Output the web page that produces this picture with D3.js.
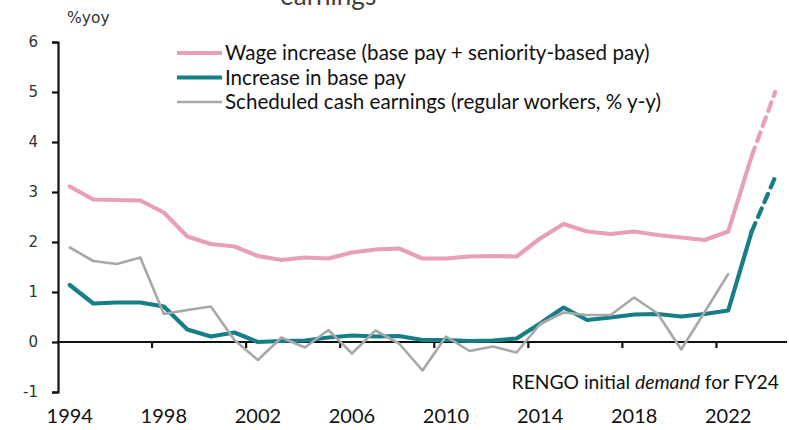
<!DOCTYPE html>
<html>
<head>
<meta charset="utf-8">
<script src="https://cdn.jsdelivr.net/npm/d3@7"></script>
<style>
  html, body { margin: 0; padding: 0; background: #fff; }
  svg { display: block; }
</style>
</head>
<body>
<svg id="chart" width="789" height="430"></svg>
<script>
// Fiscal years on the category axis
const years = d3.range(1994, 2025);

// RENGO wage increase (base pay + seniority-based pay), %
const wageIncrease = [3.11, 2.85, 2.84, 2.83, 2.59, 2.11, 1.96, 1.91, 1.72, 1.64,
  1.69, 1.67, 1.79, 1.85, 1.87, 1.67, 1.67, 1.71, 1.72, 1.71,
  2.07, 2.36, 2.21, 2.16, 2.21, 2.14, 2.09, 2.04, 2.21, 3.72, 5.0];

// Increase in base pay, %
const basePay = [1.14, 0.77, 0.79, 0.79, 0.71, 0.25, 0.11, 0.19, 0.0, 0.02,
  0.03, 0.09, 0.13, 0.11, 0.12, 0.04, 0.04, 0.02, 0.03, 0.07,
  0.37, 0.69, 0.44, 0.49, 0.55, 0.56, 0.51, 0.56, 0.63, 2.21, 3.3];

// Scheduled cash earnings (regular workers), % y-y; no values for FY23/FY24
const scheduledEarnings = [1.89, 1.62, 1.56, 1.69, 0.56, 0.64, 0.71, 0.04, -0.36, 0.09,
  -0.11, 0.24, -0.23, 0.23, -0.03, -0.57, 0.11, -0.18, -0.09, -0.21,
  0.36, 0.59, 0.54, 0.54, 0.89, 0.57, -0.15, 0.6, 1.36, null, null];

// Last actual year; the step to the next year is the initial demand
const lastActual = 2023;

const yTicks = [-1, 0, 1, 2, 3, 4, 5, 6];
const xLabelYears = [1994, 1998, 2002, 2006, 2010, 2014, 2018, 2022];
const xTickYears = [1998, 2002, 2006, 2010, 2014, 2018, 2022];

const legendLabels = [
  "Wage increase (base pay + seniority-based pay)",
  "Increase in base pay",
  "Scheduled cash earnings (regular workers, % y-y)"
];

const colors = { wage: "#E8A0B5", base: "#167E87", sched: "#A8A8A8" };
const sansNarrow = "Lato, 'Open Sans', sans-serif";
const sansWide = "'DejaVu Sans', Verdana, sans-serif";

const svg = d3.select("#chart");

const x = d3.scaleBand().domain(years).range([58, 787]).padding(0);
const y = d3.scaleLinear().domain([-1, 6]).range([392, 42]);
const cx = yr => x(yr) + x.bandwidth() / 2;

// Title fragment, cut by the top edge
svg.append("text")
  .attr("x", 280).attr("y", 5)
  .attr("font-family", sansNarrow).attr("font-size", 26)
  .attr("fill", "#404040")
  .text("earnings");

// Unit label
svg.append("text")
  .attr("x", 67).attr("y", 23)
  .attr("font-family", sansWide).attr("font-size", 15.5)
  .attr("fill", "#333")
  .text("%yoy");

// Y axis
const yAxis = svg.append("g")
  .attr("transform", "translate(58,0)")
  .call(d3.axisLeft(y).tickValues(yTicks).tickSize(6).tickPadding(14).tickFormat(d => String(d)));
yAxis.select(".domain").attr("stroke", "#111").attr("stroke-width", 2.2);
yAxis.selectAll(".tick line").attr("stroke", "#111").attr("stroke-width", 2.2);
yAxis.selectAll(".tick text")
  .attr("font-family", sansWide).attr("font-size", 15).attr("fill", "#333");

// X axis line at zero
svg.append("line")
  .attr("x1", 57).attr("x2", x.range()[1])
  .attr("y1", y(0)).attr("y2", y(0))
  .attr("stroke", "#111").attr("stroke-width", 2.2);

// X tick marks on category boundaries
svg.append("g").selectAll("line")
  .data(xTickYears)
  .join("line")
  .attr("x1", d => x(d)).attr("x2", d => x(d))
  .attr("y1", y(0)).attr("y2", y(0) + 6)
  .attr("stroke", "#111").attr("stroke-width", 2.2);

// X labels centred on categories, along the bottom edge
const xAxis = svg.append("g")
  .attr("transform", "translate(0,409)")
  .call(d3.axisBottom(x).tickValues(xLabelYears).tickSize(0).tickPadding(0));
xAxis.select(".domain").remove();
xAxis.selectAll(".tick text")
  .attr("font-family", sansNarrow).attr("font-size", 20).attr("fill", "#111");

// Series lines
const line = d3.line()
  .defined(d => d.v !== null)
  .x(d => cx(d.year))
  .y(d => y(d.v));

function series(values) {
  return years.map((year, i) => ({ year, v: values[i] }));
}

function drawSeries(values, color, width) {
  const pts = series(values);
  const solid = pts.filter(d => d.year <= lastActual);
  const dashed = pts.filter(d => d.year >= lastActual);
  svg.append("path")
    .datum(solid)
    .attr("fill", "none").attr("stroke", color).attr("stroke-width", width)
    .attr("stroke-linejoin", "round").attr("stroke-linecap", "round")
    .attr("d", line);
  if (dashed.every(d => d.v !== null)) {
    svg.append("path")
      .datum(dashed)
      .attr("fill", "none").attr("stroke", color).attr("stroke-width", width)
      .attr("stroke-dasharray", "9,7").attr("stroke-linecap", "round")
      .attr("d", line);
  }
}

drawSeries(wageIncrease, colors.wage, 4.2);
drawSeries(basePay, colors.base, 4.2);
drawSeries(scheduledEarnings, colors.sched, 2.6);

// Legend
const legendColors = [colors.wage, colors.base, colors.sched];
const legendWidths = [4.2, 4.2, 2.6];
const legend = svg.append("g");
legendLabels.forEach((label, i) => {
  const ly = 53 + i * 24.5;
  legend.append("line")
    .attr("x1", 177).attr("x2", 222).attr("y1", ly).attr("y2", ly)
    .attr("stroke", legendColors[i]).attr("stroke-width", legendWidths[i]);
  legend.append("text")
    .attr("x", 225).attr("y", ly).attr("dy", "0.35em")
    .attr("font-family", sansNarrow).attr("font-size", 20.6).attr("fill", "#111")
    .text(label);
});

// Annotation
const note = svg.append("text")
  .attr("x", 779).attr("y", 389).attr("text-anchor", "end")
  .attr("font-family", sansNarrow).attr("font-size", 19.3).attr("fill", "#111");
note.append("tspan").text("RENGO initial ");
note.append("tspan").attr("font-style", "italic").text("demand");
note.append("tspan").text(" for FY24");
</script>
</body>
</html>
